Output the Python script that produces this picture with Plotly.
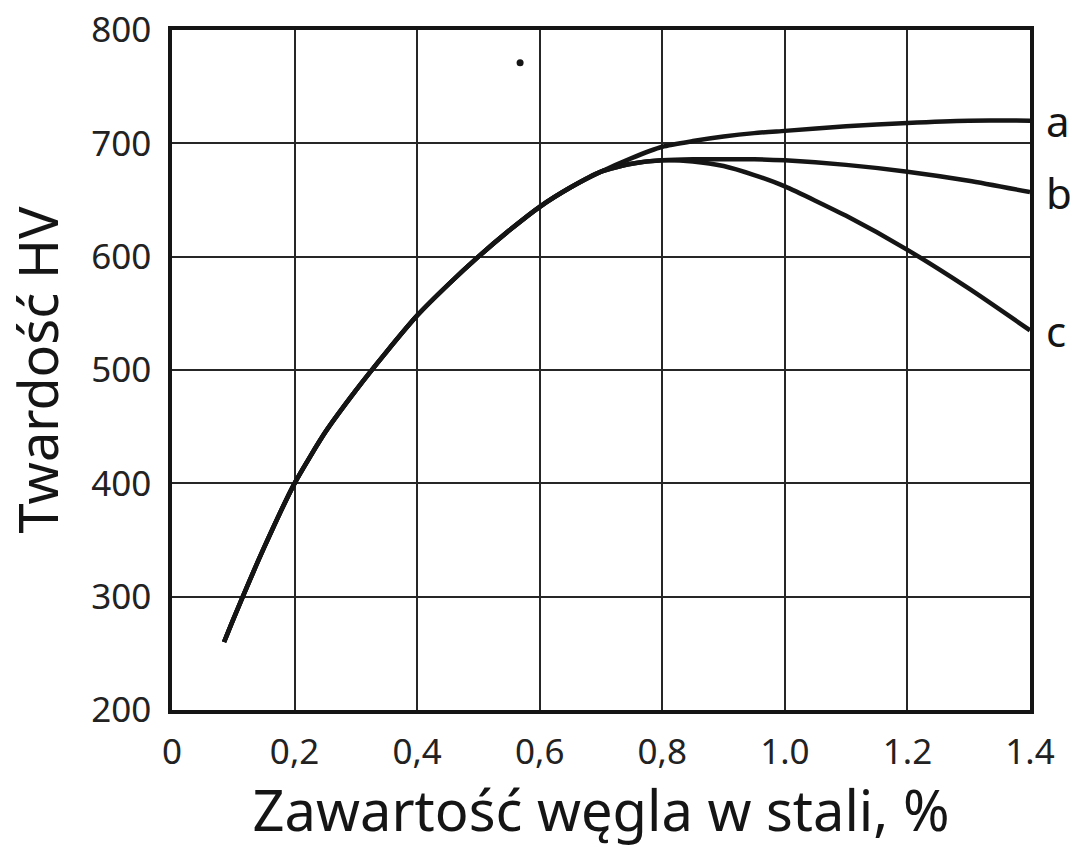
import plotly.graph_objects as go

# Common rising branch (carbon %, HV)
common_x = [0.085, 0.1, 0.15, 0.2, 0.25, 0.3, 0.35, 0.4, 0.45, 0.5, 0.55, 0.6, 0.65, 0.7]
common_y = [260, 280, 343, 400, 445, 482, 516, 548, 575, 600, 623, 644, 661, 675]

# Branches after divergence
branch_x = [0.75, 0.8, 0.85, 0.9, 0.95, 1.0, 1.1, 1.2, 1.3, 1.4]
a_y = [687, 697, 702, 706, 709, 711, 715, 718, 720, 720]
b_y = [682, 685, 686, 686, 686, 685, 681, 675, 667, 657]
c_y = [682, 685, 684, 680, 672, 662, 636, 606, 572, 535]

curve_labels = ["a", "b", "c"]

x_ticks = [0, 0.2, 0.4, 0.6, 0.8, 1.0, 1.2, 1.4]
x_ticktext = ["0", "0,2", "0,4", "0,6", "0,8", "1.0", "1.2", "1.4"]
y_ticks = [200, 300, 400, 500, 600, 700, 800]

stray_dot_x = [0.568]
stray_dot_y = [771]

FONT = "Noto Sans"
INK = "#151515"

fig = go.Figure()
for lab, ys in zip(curve_labels, [a_y, b_y, c_y]):
    fig.add_trace(go.Scatter(
        x=common_x + branch_x, y=common_y + ys, mode="lines",
        line=dict(color=INK, width=4.5, shape="spline", smoothing=0.6),
        showlegend=False, hoverinfo="skip"))
    fig.add_annotation(x=1.0, xref="paper", xanchor="left", xshift=14,
                       y=ys[-1], yref="y", text=lab, showarrow=False,
                       font=dict(family=FONT, size=42, color=INK))

fig.add_trace(go.Scatter(x=stray_dot_x, y=stray_dot_y, mode="markers",
                         marker=dict(color=INK, size=7),
                         showlegend=False, hoverinfo="skip"))

axis_common = dict(showgrid=True, gridcolor="#262626", gridwidth=2.2,
                   showline=True, linecolor=INK, linewidth=3.5,
                   mirror=True, zeroline=False, ticks="",
                   ticklabeloverflow="allow",
                   tickfont=dict(family=FONT, size=35, color="#222222"))

fig.update_xaxes(range=[0, 1.4], tickvals=x_ticks, ticktext=x_ticktext,
                 ticklabelstandoff=8,
                 title=dict(text="Zawartość węgla w stali, %", standoff=12,
                            font=dict(family=FONT, size=56, color=INK)),
                 **axis_common)
fig.update_yaxes(range=[200, 800], tickvals=y_ticks,
                 ticklabelstandoff=10,
                 title=dict(text="Twardość HV", standoff=18,
                            font=dict(family=FONT, size=54, color=INK)),
                 **axis_common)

fig.update_layout(width=1079, height=847,
                  margin=dict(l=172, r=49, t=30, b=137, autoexpand=False),
                  paper_bgcolor="white", plot_bgcolor="white")

# remove the default page margin so the figure sits at the top-left corner
fig.write_html("out.html", config={"displayModeBar": False},
               post_script="document.body.style.margin='0';")
